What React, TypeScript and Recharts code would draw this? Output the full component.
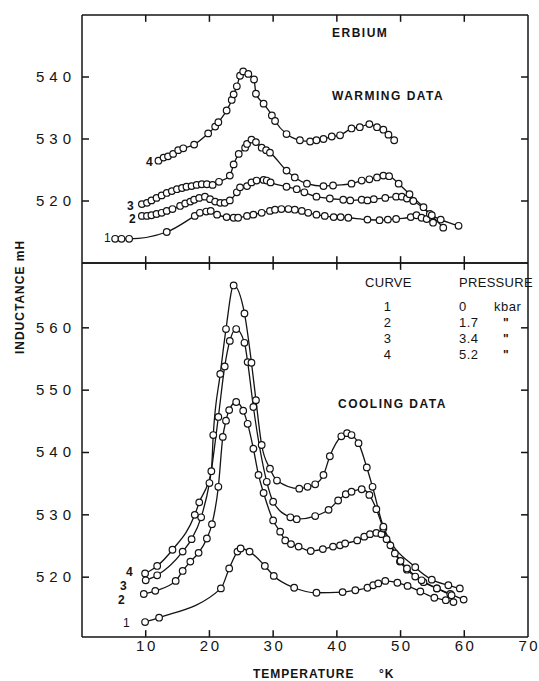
import React from "react";
import { LineChart, Line, XAxis, YAxis, ReferenceLine } from "recharts";

const tempTicks = [10, 20, 30, 40, 50, 60, 70];
const warmTicks = [520, 530, 540];
const coolTicks = [520, 530, 540, 550, 560];

// warming data, [temperature K, inductance mH]
const warm1 = [
  [5.2, 513.9], [6.2, 513.9], [7.4, 513.9], [13.3, 515.0], [17.7, 517.6], [18.5, 518.1],
  [19.5, 518.3], [20.2, 518.4], [21.2, 517.8], [22.7, 517.4], [23.8, 517.3], [24.5, 517.3],
  [25.9, 517.6], [26.9, 517.8], [28.2, 518.1], [29.5, 518.4], [30.3, 518.6], [31.3, 518.7],
  [32.4, 518.7], [33.4, 518.6], [34.5, 518.4], [35.5, 518.1], [36.8, 517.8], [38.1, 517.6],
  [39.5, 517.4], [40.6, 517.4], [41.8, 517.3], [44.8, 517.0], [46.7, 516.9], [48.0, 517.0],
  [49.3, 517.1], [51.6, 517.4], [52.5, 517.7], [53.3, 517.3], [54.1, 517.1], [55.1, 516.5],
];
const warm2 = [
  [9.4, 517.6], [10.2, 517.6], [10.9, 517.7], [11.7, 517.9], [12.5, 518.1], [13.3, 518.4],
  [14.2, 518.7], [15.4, 519.2], [16.2, 519.6], [17.0, 519.9], [17.6, 520.2], [18.4, 520.5],
  [19.3, 520.7], [20.1, 520.3], [20.9, 519.9], [21.7, 519.7], [22.4, 519.7], [23.2, 520.1],
  [24.3, 521.4], [24.8, 522.2], [25.9, 522.4], [26.6, 523.0], [27.4, 523.3], [28.5, 523.4],
  [29.0, 523.3], [29.6, 523.0], [32.1, 522.3], [33.7, 521.9], [34.9, 521.4], [36.8, 520.7],
  [38.9, 520.4], [41.0, 520.2], [42.1, 520.1], [43.9, 520.2], [44.8, 520.1], [45.8, 520.3],
  [47.6, 520.5], [49.3, 520.7], [50.2, 520.7], [51.0, 520.4], [52.0, 520.0], [54.6, 517.9],
  [56.7, 515.7],
];
const warm3 = [
  [9.4, 519.5], [10.2, 519.7], [10.9, 520.1], [11.7, 520.5], [12.5, 520.9], [13.3, 521.3],
  [14.1, 521.6], [14.9, 521.9], [15.7, 522.1], [16.4, 522.3], [17.2, 522.4], [18.0, 522.6],
  [18.8, 522.7], [19.6, 522.7], [20.5, 522.6], [21.5, 523.1], [23.2, 524.1], [23.8, 525.9],
  [24.6, 527.6], [25.6, 528.6], [25.9, 529.2], [26.6, 529.9], [27.3, 529.5], [28.2, 528.6],
  [28.9, 528.2], [29.5, 527.8], [32.1, 524.9], [33.4, 523.8], [35.3, 522.8], [37.9, 522.4],
  [39.4, 522.5], [42.3, 522.8], [43.9, 523.3], [45.1, 523.5], [46.3, 523.8], [47.3, 524.1],
  [48.2, 524.0], [49.7, 522.8], [51.4, 521.1], [53.6, 519.0], [54.9, 517.7], [56.3, 517.0],
  [59.1, 516.0],
];
const warm4 = [
  [12.0, 526.5], [12.8, 527.0], [13.5, 527.2], [14.3, 527.6], [15.1, 528.2], [15.9, 528.5],
  [17.6, 529.1], [19.8, 530.9], [20.9, 532.0], [21.4, 532.7], [22.7, 534.6], [23.5, 536.3],
  [23.8, 537.2], [24.3, 538.5], [24.8, 540.2], [25.3, 540.9], [26.1, 540.5], [27.0, 539.6],
  [27.3, 537.3], [28.5, 535.7], [29.8, 533.8], [30.3, 532.9], [32.1, 530.8], [34.2, 529.8],
  [35.8, 529.6], [36.8, 529.8], [37.9, 530.0], [39.2, 530.4], [40.5, 530.6], [42.3, 531.7],
  [43.6, 531.9], [45.1, 532.4], [46.3, 531.9], [47.3, 531.5], [48.1, 530.7], [49.0, 529.8],
];

// cooling data
const cool1 = [
  [9.9, 512.8], [12.1, 513.5], [21.8, 518.2], [23.1, 521.4], [24.4, 524.1], [24.9, 524.6],
  [26.3, 524.1], [28.7, 521.8], [30.1, 520.2], [33.3, 518.3], [36.8, 517.5], [40.9, 517.6],
  [42.9, 517.9], [44.8, 518.3], [45.7, 518.7], [46.5, 519.0], [47.6, 519.4], [49.5, 519.1],
  [51.1, 518.6], [53.1, 517.7], [55.3, 516.7], [57.1, 516.3], [58.3, 516.0],
];
const cool2 = [
  [9.7, 517.3], [11.5, 517.8], [14.7, 519.4], [15.8, 521.0], [17.0, 522.5], [18.3, 523.9],
  [19.6, 526.2], [20.4, 528.5], [21.4, 534.5], [22.1, 542.5], [22.6, 545.1], [23.1, 546.8],
  [24.2, 548.1], [25.3, 546.7], [26.0, 544.6], [26.9, 540.6], [27.7, 536.4], [28.5, 533.5],
  [30.0, 529.1], [31.1, 527.3], [31.9, 525.9], [32.8, 525.3], [34.0, 524.9], [35.9, 524.2],
  [37.8, 524.5], [39.4, 524.9], [40.5, 525.1], [41.3, 525.4], [43.2, 525.9], [44.3, 526.5],
  [45.2, 526.9], [46.2, 527.1], [47.0, 526.9], [47.8, 526.1], [48.4, 525.1], [49.1, 523.8],
  [49.9, 522.5], [51.0, 521.2], [52.3, 520.1], [53.6, 519.2], [55.7, 518.2], [57.8, 517.3],
  [59.9, 516.4],
];
const cool3 = [
  [10.0, 519.5], [11.8, 520.3], [15.8, 524.1], [17.2, 526.1], [18.7, 529.6], [20.0, 535.1],
  [21.4, 545.7], [22.4, 553.8], [23.2, 557.9], [24.2, 559.8], [25.5, 557.6], [26.0, 554.5],
  [26.9, 547.3], [29.0, 535.3], [30.0, 532.1], [32.7, 529.6], [33.7, 529.3], [36.6, 529.8],
  [38.7, 530.8], [40.2, 532.3], [41.4, 533.3], [42.3, 533.7], [43.9, 534.1], [45.1, 533.2],
  [46.2, 530.9], [47.3, 527.8], [50.0, 522.6], [51.0, 521.4], [53.3, 519.5], [55.7, 518.2],
  [58.0, 517.1],
];
const cool4 = [
  [9.9, 520.6], [11.8, 521.8], [14.2, 524.4], [17.7, 530.0], [18.4, 532.0], [20.3, 537.0],
  [20.6, 542.8], [21.7, 552.6], [22.6, 559.8], [23.8, 566.8], [25.5, 562.3], [26.6, 554.4],
  [27.3, 548.4], [28.2, 541.2], [29.5, 537.4], [30.6, 535.5], [34.1, 534.2], [35.4, 534.5],
  [36.6, 534.9], [37.9, 536.4], [38.9, 539.4], [40.7, 542.6], [41.6, 543.1], [42.3, 542.8],
  [43.4, 541.5], [44.7, 537.6], [45.6, 534.5], [47.3, 528.1], [52.3, 521.6], [54.9, 519.6],
  [57.5, 518.7], [59.3, 518.2],
];

const pts = (a: number[][]) => a.map(([t, l]) => ({ t, l }));
const warming = [warm1, warm2, warm3, warm4].map(pts);
const cooling = [cool1, cool2, cool3, cool4].map(pts);

const INK = "#141414";
const FONT = "'Liberation Sans', Arial, sans-serif";
const axisLine = { stroke: INK, strokeWidth: 1.5 };

const LeftLabel = (props: any) => (
  <text x={props.x - 5} y={props.y + 5} textAnchor="end" fill={INK} fontSize={15} fontFamily={FONT} letterSpacing={5}>
    {props.payload.value}
  </text>
);
const BottomLabel = (props: any) => (
  <text x={props.x + 1.25} y={props.y + 13} textAnchor="middle" fill={INK} fontSize={15} fontFamily={FONT} letterSpacing={2.5}>
    {props.payload.value}
  </text>
);

interface PanelProps {
  height: number;
  top: number;
  bottom: number;
  domain: [number, number];
  yTicks: number[];
  curves: { t: number; l: number }[][];
  xLabels: boolean;
}

const Panel = ({ height, top, bottom, domain, yTicks, curves, xLabels }: PanelProps) => {
  const [y0, y1] = domain;
  const tx = 1.1; // inward tick length, in temperature units
  const ty = 1.1; // inward tick length, in mH
  const seg = (a: [number, number], b: [number, number], k: string) => (
    <ReferenceLine
      key={k} xAxisId="b" yAxisId="l" segment={[{ x: a[0], y: a[1] }, { x: b[0], y: b[1] }]}
      stroke={INK} strokeWidth={1.5} ifOverflow="visible"
    />
  );
  return (
    <LineChart width={539} height={height} margin={{ top, right: 10, bottom, left: 29 }}>
      <XAxis
        xAxisId="b" dataKey="t" type="number" domain={[0, 70]} allowDataOverflow
        ticks={tempTicks} orientation="bottom" height={1} tick={false}
        axisLine={axisLine} tickLine={false}
      />
      {xLabels && (
        <XAxis
          xAxisId="lab" dataKey="t" type="number" domain={[0, 70]} allowDataOverflow
          ticks={tempTicks} orientation="bottom" height={30}
          tick={BottomLabel} tickSize={0} tickMargin={0}
          axisLine={false} tickLine={false}
        />
      )}
      <XAxis
        xAxisId="t" dataKey="t" type="number" domain={[0, 70]} allowDataOverflow
        ticks={tempTicks} orientation="top" height={1} tick={false}
        axisLine={axisLine} tickLine={false}
      />
      <YAxis
        yAxisId="l" type="number" domain={domain} allowDataOverflow ticks={yTicks}
        width={1} tick={false} axisLine={axisLine} tickLine={false}
      />
      <YAxis
        yAxisId="ylab" type="number" domain={domain} allowDataOverflow ticks={yTicks}
        width={52} tick={LeftLabel} tickSize={0} tickMargin={0}
        axisLine={false} tickLine={false}
      />
      <YAxis
        yAxisId="r" orientation="right" type="number" domain={domain} allowDataOverflow
        ticks={yTicks} width={1} tick={false} axisLine={axisLine} tickLine={false}
      />
      {yTicks.map((v) => seg([0.02, v], [tx, v], `l${v}`))}
      {yTicks.map((v) => seg([70, v], [70 - tx, v], `r${v}`))}
      {tempTicks.slice(0, -1).map((t) => seg([t, y0 + 0.02], [t, y0 + ty], `b${t}`))}
      {tempTicks.slice(0, -1).map((t) => seg([t, y1], [t, y1 - ty], `t${t}`))}
      {curves.map((c, i) => (
        <Line
          key={i} xAxisId="b" yAxisId="l" data={c} dataKey="l" type="monotone"
          stroke={INK} strokeWidth={1.3}
          dot={{ r: 3.3, fill: "#fff", stroke: INK, strokeWidth: 1.2 }}
          isAnimationActive={false}
        />
      ))}
    </LineChart>
  );
};

const txt = { fill: INK, fontFamily: FONT, fontWeight: 700, fontSize: 12, letterSpacing: 1.5 };

export default function App() {
  return (
    <div style={{ position: "absolute", left: 0, top: 0, width: 539, height: 681, background: "#fff" }}>
      <div style={{ position: "absolute", left: 0, top: 0 }}>
        <Panel height={273} top={14} bottom={9} domain={[510, 550]} yTicks={warmTicks} curves={warming} xLabels={false} />
      </div>
      <div style={{ position: "absolute", left: 0, top: 253 }}>
        <Panel height={428} top={9} bottom={13} domain={[510.4, 570.4]} yTicks={coolTicks} curves={cooling} xLabels />
      </div>
      <svg width={539} height={681} style={{ position: "absolute", left: 0, top: 0, pointerEvents: "none" }}>
        <text x={332} y={37} {...txt}>ERBIUM</text>
        <text x={332} y={100} {...txt}>WARMING  DATA</text>
        <text x={338} y={408} {...txt}>COOLING  DATA</text>
        <text x={365} y={287} {...txt} fontWeight={400} fontSize={13} letterSpacing={0.3}>CURVE</text>
        <text x={459} y={287} {...txt} fontWeight={400} fontSize={13} letterSpacing={0.3}>PRESSURE</text>
        {["1", "2", "3", "4"].map((c, i) => (
          <text key={c} x={388} y={311 + i * 16} {...txt} fontWeight={400} fontSize={13} textAnchor="middle">{c}</text>
        ))}
        {["0", "1.7", "3.4", "5.2"].map((p, i) => (
          <text key={p} x={459} y={311 + i * 16} {...txt} fontWeight={400} fontSize={13} letterSpacing={0.5}>{p}</text>
        ))}
        <text x={494} y={311} {...txt} fontWeight={400} fontSize={13} letterSpacing={0.5}>kbar</text>
        {[1, 2, 3].map((i) => (
          <text key={i} x={503} y={311 + i * 16} {...txt}>"</text>
        ))}
        {/* curve numbers, warming */}
        <text x={146} y={166} {...txt}>4</text>
        <text x={127} y={210} {...txt}>3</text>
        <text x={129} y={223} {...txt}>2</text>
        <text x={104} y={242} {...txt} fontWeight={400}>1</text>
        {/* curve numbers, cooling */}
        <text x={126} y={576} {...txt}>4</text>
        <text x={120} y={590} {...txt}>3</text>
        <text x={118} y={604} {...txt}>2</text>
        <text x={123} y={627} {...txt} fontWeight={400}>1</text>
        <text x={253} y={678} {...txt} letterSpacing={1}>TEMPERATURE</text>
        <text x={379} y={678} {...txt} letterSpacing={1}>°K</text>
        <text transform="translate(24,297) rotate(-90)" textAnchor="middle" {...txt} letterSpacing={1}>INDUCTANCE  mH</text>
      </svg>
    </div>
  );
}
